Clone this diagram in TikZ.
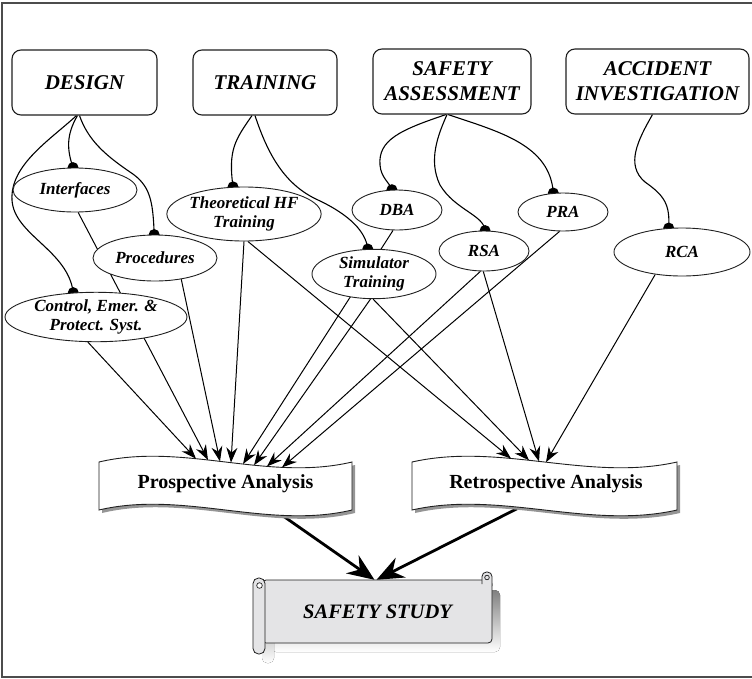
\documentclass[tikz,border=0pt]{standalone}
\usepackage{fontspec}
\setmainfont{Liberation Serif}
\usetikzlibrary{shapes.geometric,arrows.meta}

\pgfdeclarelayer{arrowsback}
\pgfdeclarelayer{banners}
\pgfdeclarelayer{links}
\pgfsetlayers{arrowsback,banners,links,main}

\definecolor{edge}{gray}{0.12}
\definecolor{framegray}{gray}{0.3}
\definecolor{scrollfill}{HTML}{E4E4E6}
\definecolor{shade}{HTML}{959595}

\begin{document}
\begin{tikzpicture}[x=1pt,y=-1pt,
  source/.style={draw=edge, line width=1.1pt, rounded corners=9pt, fill=white,
    align=center, inner sep=0pt,
    font=\fontsize{21}{25}\selectfont\bfseries\itshape},
  topic/.style={ellipse, draw=edge, line width=0.9pt, fill=white, align=center,
    inner sep=0pt, font=\fontsize{17}{19.5}\selectfont\bfseries\itshape},
  link/.style={line width=1.1pt, draw=black},
  feed/.style={line width=1pt, draw=black,
    -{Stealth[length=15pt,width=11pt,inset=5pt]}},
  merge/.style={line width=2.8pt, draw=black,
    -{Stealth[length=27pt,width=22pt,inset=9pt]}},
  bannertext/.style={inner sep=0pt, font=\fontsize{20}{24}\selectfont\bfseries},
  wave/.style={draw=edge, line width=0.9pt, fill=white},
  waveshadow/.style={fill=shade}
]
\useasboundingbox (0,0) rectangle (752,678);

% frame
\draw[framegray, line width=1.2pt] (752,3) -- (2,3) -- (2,677) -- (752,677);

% top-level sources
\node[source, minimum width=145pt, minimum height=65pt] (design)   at (84.5,82.5) {DESIGN};
\node[source, minimum width=144pt, minimum height=65pt] (training) at (265,82.5)  {TRAINING};
\node[source, minimum width=158pt, minimum height=65pt] (safety)   at (452,81.5)  {SAFETY\\ASSESSMENT};
\node[source, minimum width=183pt, minimum height=65pt] (accident) at (657.5,81.5) {ACCIDENT\\INVESTIGATION};

% topics
\node[topic, minimum width=124pt, minimum height=44pt] (intf) at (75,190)  {Interfaces};
\node[topic, minimum width=138pt, minimum height=54pt] (theo) at (244,214) {Theoretical HF\\Training};
\node[topic, minimum width=124pt, minimum height=46pt] (proc) at (155,258) {Procedures};
\node[topic, minimum width=182pt, minimum height=48pt] (ctrl) at (96,317)  {Control, Emer. \&\\Protect. Syst.};
\node[topic, minimum width=124pt, minimum height=48pt] (sim)  at (374,274) {Simulator\\Training};
\node[topic, minimum width=90pt,  minimum height=40pt] (dba)  at (397,210) {DBA};
\node[topic, minimum width=90pt,  minimum height=40pt] (rsa)  at (484,251) {RSA};
\node[topic, minimum width=90pt,  minimum height=38pt] (pra)  at (563,212) {PRA};
\node[topic, minimum width=136pt, minimum height=48pt] (rca)  at (682,252) {RCA};

% wavy banners
\begin{pgfonlayer}{banners}
  \fill[waveshadow, shift={(3,3)}]
    (99,462) .. controls (183.3,442) and (267.7,482) .. (352,462) -- (352,510)
    .. controls (267.7,530) and (183.3,490) .. (99,510) -- cycle;
  \path[wave]
    (99,462) .. controls (183.3,442) and (267.7,482) .. (352,462) -- (352,510)
    .. controls (267.7,530) and (183.3,490) .. (99,510) -- cycle;
  \node[bannertext, minimum width=253pt, minimum height=48pt] (pro) at (225.5,484) {Prospective Analysis};

  \fill[waveshadow, shift={(3,3)}]
    (412,462) .. controls (500.3,442) and (588.7,482) .. (677,462) -- (677,510)
    .. controls (588.7,530) and (500.3,490) .. (412,510) -- cycle;
  \path[wave]
    (412,462) .. controls (500.3,442) and (588.7,482) .. (677,462) -- (677,510)
    .. controls (588.7,530) and (500.3,490) .. (412,510) -- cycle;
  \node[bannertext, minimum width=265pt, minimum height=48pt] (retro) at (546,484) {Retrospective Analysis};

  % scroll
  \fill[shade, rounded corners=5pt] (271,590) rectangle (500,652);
  \fill[shade, rounded corners=5pt] (262,600) rectangle (274,663);
  \draw[edge, line width=0.8pt, fill=scrollfill, rounded corners=4pt] (262,580) rectangle (492,643);
  \draw[edge, line width=0.8pt, fill=scrollfill, rounded corners=4.5pt]
    (482,584) -- (482,572) -- (492,572) -- (492,586);
  \draw[edge, line width=0.7pt] (487,577.5) circle (2.3pt);
  \draw[edge, line width=0.8pt, fill=scrollfill, rounded corners=5.5pt] (253,578) rectangle (265,654);
  \draw[edge, line width=0.7pt, fill=white] (259.5,585.5) circle (2.8pt);
  \node[inner sep=0pt, minimum width=229pt, minimum height=63pt,
        font=\fontsize{20.5}{24}\selectfont\bfseries\itshape] (study) at (377.5,612) {SAFETY STUDY};
\end{pgfonlayer}

% thick arrows into the study
\begin{pgfonlayer}{arrowsback}
  \draw[merge] ([xshift=46.5pt]pro.south) -- ([xshift=-3pt,yshift=0.5pt]study.north);
  \draw[merge] ([xshift=-28pt]retro.south) -- ([xshift=-1pt,yshift=0.5pt]study.north);
\end{pgfonlayer}

% arrow targets on the banners
\coordinate (p1) at (196,458.7);
\coordinate (p2) at (208,460);
\coordinate (p3) at (220,461.4);
\coordinate (p4) at (231,462.6);
\coordinate (p5) at (243,464);
\coordinate (p6) at (254,465.2);
\coordinate (p7) at (267,466.4);
\coordinate (p8) at (282,467.4);
\coordinate (r1) at (511,458.5);
\coordinate (r2) at (529,460.3);
\coordinate (r3) at (539,461.4);
\coordinate (r4) at (546,462.2);

\begin{pgfonlayer}{links}
  % curved links from sources to topics
  \draw[link] ([xshift=-7pt]design.south) .. controls (66,135) and (67,150) .. (intf.95);
  \draw[link] ([xshift=-5pt]design.south) .. controls (88,140) and (105,155) .. (130,172)
              .. controls (150,185) and (153,200) .. (proc.92);
  \draw[link] ([xshift=-8pt]design.south) .. controls (50,140) and (10,165) .. (12,200)
              .. controls (14,235) and (68,250) .. (ctrl.133);
  \draw[link] ([xshift=-13pt]training.south) .. controls (235,140) and (228,150) .. (theo.112);
  \draw[link] ([xshift=-10pt]training.south) .. controls (268,155) and (285,185) .. (318,200)
              .. controls (350,215) and (366,232) .. (sim.104);
  \draw[link] ([xshift=-6pt]safety.south) .. controls (400,130) and (378,140) .. (380,165)
              .. controls (381,178) and (390,183) .. (dba.104);
  \draw[link] ([xshift=-5pt]safety.south) .. controls (438,135) and (428,160) .. (440,185)
              .. controls (455,210) and (484,215) .. (rsa.87);
  \draw[link] ([xshift=-4pt]safety.south) .. controls (500,132) and (550,145) .. (pra.117);
  \draw[link] ([xshift=-5pt]accident.south) .. controls (638,140) and (625,165) .. (645,182)
              .. controls (665,196) and (670,205) .. (rca.119);

  % attachment knobs
  \foreach \k in {intf.95, proc.92, ctrl.133, theo.112, sim.104, dba.104, rsa.87, pra.117, rca.119}
    \fill (\k) circle (5.5pt);

  % feeds into the prospective analysis
  \draw[feed] (ctrl.252) -- (p1);
  \draw[feed] (intf.278) -- (p2);
  \draw[feed] (proc.321) -- (p3);
  \draw[feed] (theo.270) -- (p4);
  \draw[feed] (dba.259)  -- (p5);
  \draw[feed] (sim.262)  -- (p6);
  \draw[feed] (rsa.260)  -- (p7);
  \draw[feed] (pra.260)  -- (p8);

  % feeds into the retrospective analysis
  \draw[feed] (theo.278) -- (r1);
  \draw[feed] (sim.268)  -- (r2);
  \draw[feed] (rsa.268)  -- (r3);
  \draw[feed] (rca.220)  -- (r4);
\end{pgfonlayer}
\end{tikzpicture}
\end{document}
